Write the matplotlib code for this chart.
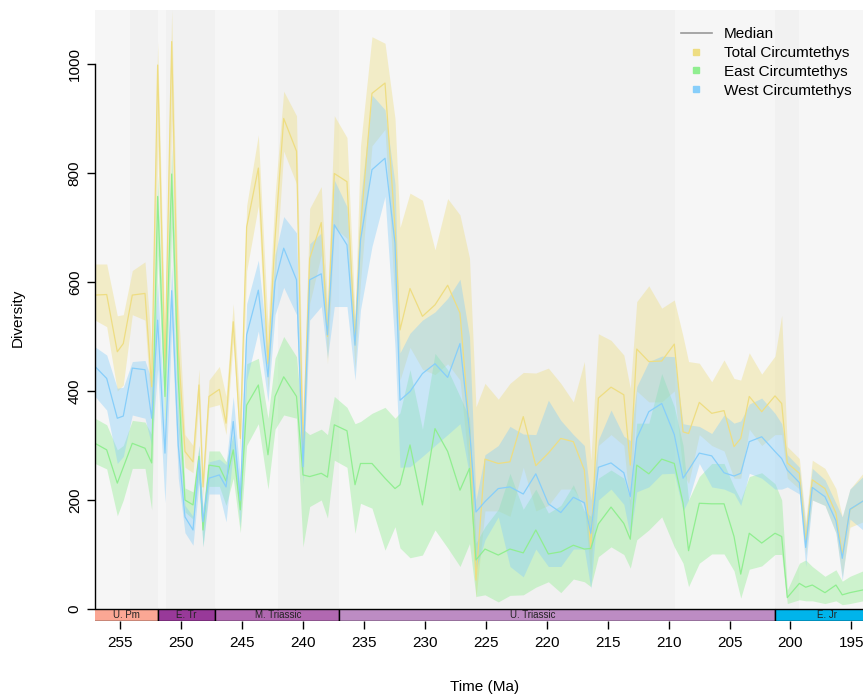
import numpy as np
import matplotlib
matplotlib.use("Agg")
import matplotlib.pyplot as plt
from matplotlib.patches import Rectangle
from matplotlib.lines import Line2D

plt.rcParams['font.family'] = ['Liberation Sans', 'DejaVu Sans']

# time bins (Ma)
t = [257.05, 256.09, 255.22, 254.73, 253.99, 252.95, 252.40, 251.91, 251.31, 250.76,
     250.22, 249.67, 249.01, 248.52, 248.19, 247.70, 246.85, 246.30, 245.71, 245.13,
     244.61, 243.65, 242.86, 242.28, 241.57, 240.52, 239.99, 239.44, 238.49, 237.98,
     237.42, 236.38, 235.72, 235.27, 234.33, 233.26, 232.44, 232.03, 231.21, 230.19,
     229.16, 228.12, 227.11, 226.33, 225.80, 225.06, 223.97, 223.01, 221.92, 220.89,
     219.86, 218.84, 217.81, 216.91, 216.38, 215.76, 214.72, 213.67, 213.14, 212.61,
     211.62, 210.56, 209.53, 208.81, 208.36, 207.48, 206.46, 205.45, 204.63, 204.08,
     203.38, 202.36, 201.27, 200.72, 200.26, 199.27, 198.75, 198.21, 197.17, 196.27,
     195.75, 195.12, 194.05]

# Total Circumtethys
tot_med = [576, 577, 472, 487, 576, 579, 408, 998, 440, 1041,
           480, 289, 270, 411, 224, 390, 403, 341, 527, 313,
           701, 809, 450, 680, 900, 840, 290, 643, 709, 500,
           799, 784, 487, 700, 946, 965, 700, 512, 588, 537,
           558, 594, 543, 330, 53, 275, 267, 270, 353, 263,
           286, 313, 307, 255, 110, 387, 407, 393, 264, 477,
           454, 455, 486, 325, 322, 379, 359, 364, 298, 313,
           390, 362, 391, 377, 268, 249, 125, 237, 221, 176,
           100, 182, 198]
tot_hi = [633, 633, 538, 540, 621, 637, 480, 1041, 500, 1100,
          560, 320, 300, 440, 250, 420, 445, 390, 560, 365,
          740, 870, 520, 760, 950, 905, 350, 735, 775, 560,
          905, 865, 540, 850, 1050, 1038, 900, 700, 763, 750,
          659, 753, 723, 644, 371, 414, 385, 414, 434, 433,
          442, 414, 380, 454, 273, 505, 493, 466, 405, 564,
          593, 552, 567, 500, 454, 451, 417, 457, 423, 420,
          470, 431, 464, 539, 298, 276, 160, 273, 258, 221,
          169, 220, 249]
tot_lo = [530, 518, 400, 411, 540, 530, 350, 850, 380, 900,
          400, 260, 250, 380, 205, 370, 375, 320, 490, 290,
          620, 740, 400, 600, 840, 780, 240, 560, 650, 450,
          700, 680, 440, 600, 850, 880, 560, 420, 480, 440,
          430, 450, 420, 250, 20, 180, 180, 170, 260, 180,
          190, 220, 220, 190, 60, 300, 320, 300, 180, 400,
          380, 380, 400, 250, 230, 320, 300, 290, 240, 240,
          330, 300, 320, 320, 240, 220, 100, 200, 190, 140,
          60, 150, 160]

# East Circumtethys
east_med = [304, 292, 231, 260, 304, 295, 268, 757, 390, 798,
            420, 200, 191, 280, 145, 264, 261, 235, 292, 182,
            374, 411, 283, 390, 426, 390, 246, 243, 249, 242,
            338, 327, 228, 267, 267, 240, 221, 228, 301, 191,
            331, 289, 218, 258, 90, 110, 99, 110, 103, 145,
            101, 105, 117, 110, 111, 156, 187, 157, 128, 264,
            248, 275, 267, 194, 107, 194, 193, 193, 133, 64,
            139, 121, 139, 133, 21, 47, 40, 44, 30, 44,
            26, 30, 35]
east_hi = [350, 338, 292, 300, 346, 343, 320, 796, 430, 846,
           470, 222, 215, 300, 175, 290, 290, 270, 320, 220,
           450, 460, 350, 460, 500, 463, 330, 320, 330, 320,
           390, 370, 340, 344, 359, 370, 350, 360, 439, 330,
           469, 439, 390, 350, 121, 151, 183, 249, 183, 220,
           176, 190, 228, 180, 170, 240, 255, 240, 200, 341,
           341, 432, 371, 300, 200, 243, 267, 267, 224, 200,
           243, 250, 230, 200, 35, 84, 90, 78, 60, 72,
           51, 60, 70]
east_lo = [267, 257, 171, 200, 258, 258, 182, 650, 330, 700,
           330, 178, 165, 240, 115, 225, 225, 190, 240, 140,
           300, 340, 220, 330, 356, 350, 114, 188, 200, 167,
           273, 260, 139, 194, 185, 108, 151, 112, 94, 99,
           145, 112, 78, 120, 23, 26, 13, 25, 26, 40,
           50, 30, 55, 50, 41, 96, 114, 100, 75, 127,
           145, 169, 114, 84, 41, 84, 101, 101, 70, 20,
           73, 79, 100, 100, 10, 17, 15, 15, 10, 15,
           8, 10, 15]

# West Circumtethys
west_med = [445, 423, 350, 354, 442, 439, 350, 530, 286, 584,
            300, 169, 145, 273, 160, 240, 246, 224, 344, 200,
            503, 585, 426, 600, 662, 604, 261, 604, 615, 503,
            705, 668, 484, 677, 806, 827, 671, 383, 399, 432,
            450, 425, 487, 328, 178, 197, 221, 224, 211, 248,
            193, 177, 205, 195, 139, 260, 268, 250, 206, 313,
            362, 377, 320, 240, 255, 286, 281, 250, 244, 249,
            307, 316, 289, 276, 255, 232, 113, 223, 206, 162,
            93, 183, 198]
west_hi = [481, 466, 405, 407, 454, 456, 420, 600, 330, 628,
           360, 190, 170, 300, 185, 270, 275, 265, 390, 240,
           560, 640, 470, 650, 720, 690, 300, 670, 690, 540,
           787, 738, 520, 750, 943, 916, 780, 470, 506, 530,
           545, 570, 605, 500, 200, 283, 300, 335, 321, 320,
           383, 346, 320, 300, 200, 310, 365, 317, 309, 408,
           454, 464, 463, 340, 338, 335, 322, 356, 341, 345,
           376, 387, 359, 340, 283, 260, 150, 258, 237, 194,
           169, 220, 243]
west_lo = [390, 365, 267, 280, 356, 350, 300, 440, 195, 520,
           240, 140, 117, 230, 114, 211, 211, 160, 290, 150,
           420, 510, 380, 540, 590, 540, 230, 530, 555, 460,
           555, 555, 420, 549, 665, 757, 480, 260, 261, 280,
           300, 320, 340, 245, 72, 127, 169, 78, 59, 110,
           78, 78, 110, 110, 38, 200, 220, 192, 133, 215,
           224, 248, 249, 180, 200, 267, 224, 220, 212, 190,
           249, 240, 220, 220, 224, 211, 78, 200, 190, 139,
           53, 165, 145]

# stage boundaries for background shading (Ma)
stage_bounds = [259.1, 254.14, 251.902, 251.2, 247.2, 242.0, 237.0, 227.9, 209.5, 201.3, 199.3, 190.8]

# geological periods for the bar
per_names = ['U. Pm', 'E. Tr', 'M. Triassic', 'U. Triassic', 'E. Jr']
per_old = [259.1, 251.902, 247.2, 237.0, 201.3]
per_young = [251.902, 247.2, 237.0, 201.3, 174.1]
per_cols = ['#FBA794', '#983999', '#B168B1', '#BD8CC3', '#00B4EB']
per_lab_x = [254.5, 249.6, 242.0, 221.1, 197.0]

fig = plt.figure(figsize=(8.63, 6.95), dpi=100)
ax = fig.add_axes([95/863, 74/695, 768/863, 611/695])

xl = (257.05, 194.05)
yl = (-22, 1099)

# background stage bands
for i in range(len(stage_bounds) - 1):
    c = '#F6F6F6' if i % 2 == 0 else '#F1F1F1'
    ax.axvspan(stage_bounds[i], stage_bounds[i+1], color=c, lw=0, zorder=0)

series = [
    ('Total Circumtethys', '#EEDD82', tot_med, tot_lo, tot_hi),
    ('East Circumtethys', '#90EE90', east_med, east_lo, east_hi),
    ('West Circumtethys', '#87CEFA', west_med, west_lo, west_hi),
]
for name, col, med, lo, hi in series:
    ax.fill_between(t, lo, hi, color=col, alpha=0.4, lw=0, zorder=1)
for name, col, med, lo, hi in series:
    ax.plot(t, med, color=col, lw=0.9, zorder=2)

# timescale bar
for nm, o, y, c, lx in zip(per_names, per_old, per_young, per_cols, per_lab_x):
    ax.add_patch(Rectangle((y, yl[0]), o - y, -yl[0], facecolor=c,
                           edgecolor='black', lw=1, zorder=3, clip_on=True))
    ax.text(lx, yl[0] / 2, nm, ha='center', va='center', fontsize=7,
            color='#222222', zorder=4)

ax.set_xlim(xl)
ax.set_ylim(yl)

for s in ['top', 'right', 'bottom']:
    ax.spines[s].set_visible(False)
ax.spines['left'].set_bounds(0, 1000)
ax.spines['left'].set_linewidth(1)

ax.set_xticks(np.arange(255, 194, -5))
ax.set_yticks(np.arange(0, 1001, 200))
ax.tick_params(axis='both', labelsize=11, length=6, width=1, direction='out')
ax.tick_params(axis='x', pad=4.5)
ax.tick_params(axis='y', labelrotation=90)
for lab in ax.get_yticklabels():
    lab.set_va('center')

fig.text(18/863, 1 - 318/695, 'Diversity', rotation=90, ha='center', va='center', fontsize=11)
fig.text(485/863, 1 - 687/695, 'Time (Ma)', ha='center', va='center', fontsize=11)

handles = [Line2D([], [], color='#999999', lw=1.2)]
for name, col, med, lo, hi in series:
    handles.append(Line2D([], [], color=col, marker='s', markersize=5, lw=0))
labels = ['Median'] + [s[0] for s in series]
fig.legend(handles, labels, loc='upper left', bbox_to_anchor=(681/863, 1 - 27/695),
           frameon=False, fontsize=11, handlelength=2.0, handletextpad=0.8,
           labelspacing=0.32, borderpad=0, borderaxespad=0)

fig.savefig('out.png', dpi=100)
